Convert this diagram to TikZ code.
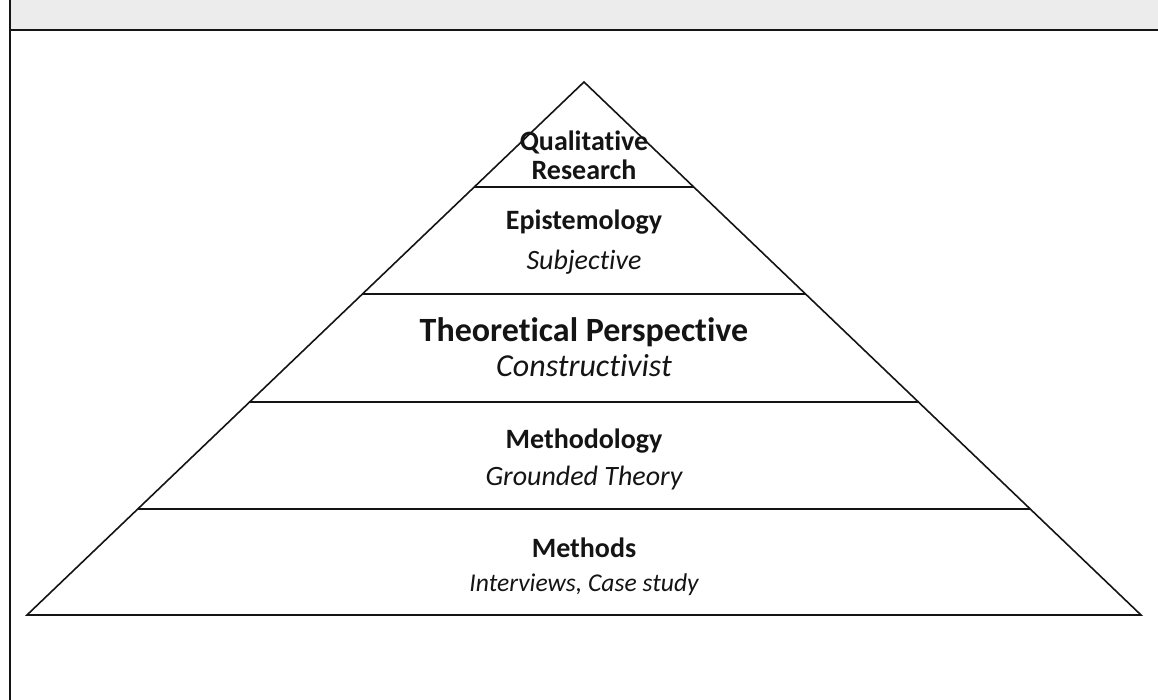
\documentclass[tikz,border=0pt]{standalone}
\usepackage{fontspec}
\setmainfont{Carlito}[RawFeature={-liga;-clig;-calt;-dlig}]
\usetikzlibrary{positioning}
\definecolor{ink}{RGB}{20, 20, 20}
\definecolor{band}{RGB}{236, 236, 236}
\tikzset{
    edge/.style={draw=ink, line width=0.8pt},
    level/.style={align=center, inner sep=0pt, text=ink, font=\fontsize{14}{14.5}\selectfont\bfseries},
    sub/.style={align=center, inner sep=0pt, text=ink, font=\fontsize{14}{14.5}\selectfont\itshape}
}

\begin{document}
\begin{tikzpicture}[x=0.5pt, y=-0.5pt]
    \useasboundingbox (0,0) rectangle (1158,700);
    % header band and frame
    \fill[band] (10,0) rectangle (1158,30);
    \draw[ink, line width=1.3pt] (10,30) -- (1158,30);
    \draw[ink, line width=0.6pt] (10,0) -- (10,700);

    % pyramid corners and layer ends
    \coordinate (apex) at (584,82);
    \coordinate (l1) at (474,187);   \coordinate (r1) at (694,187);
    \coordinate (l2) at (362,294);   \coordinate (r2) at (806,294);
    \coordinate (l3) at (250,402);   \coordinate (r3) at (918,402);
    \coordinate (l4) at (138,509);   \coordinate (r4) at (1030,509);
    \coordinate (l5) at (27,615);    \coordinate (r5) at (1141,615);

    \draw[edge, line join=miter] (l5) -- (apex) -- (r5) -- cycle;
    \draw[edge] (l1) -- (r1);
    \draw[edge] (l2) -- (r2);
    \draw[edge] (l3) -- (r3);
    \draw[edge] (l4) -- (r4);

    % labels, top to bottom
    \node[level] (qr) at (584,155) {Qualitative\\Research};
    \node[level] (epi) at (584,222) {Epistemology};
    \node[sub] (episub) at (584,262) {Subjective};
    \node[level, font=\fontsize{17}{18}\selectfont\bfseries] (theo) at (584,332) {Theoretical Perspective};
    \node[sub, font=\fontsize{16}{17}\selectfont\itshape] (theosub) at (584,366) {Constructivist};
    \node[level] (meth) at (584,441) {Methodology};
    \node[sub] (methsub) at (584,478) {Grounded Theory};
    \node[level] (mtd) at (584,548) {Methods};
    \node[sub, font=\fontsize{12.8}{14}\selectfont\itshape] (mtdsub) at (584,585) {Interviews, Case study};
\end{tikzpicture}
\end{document}
